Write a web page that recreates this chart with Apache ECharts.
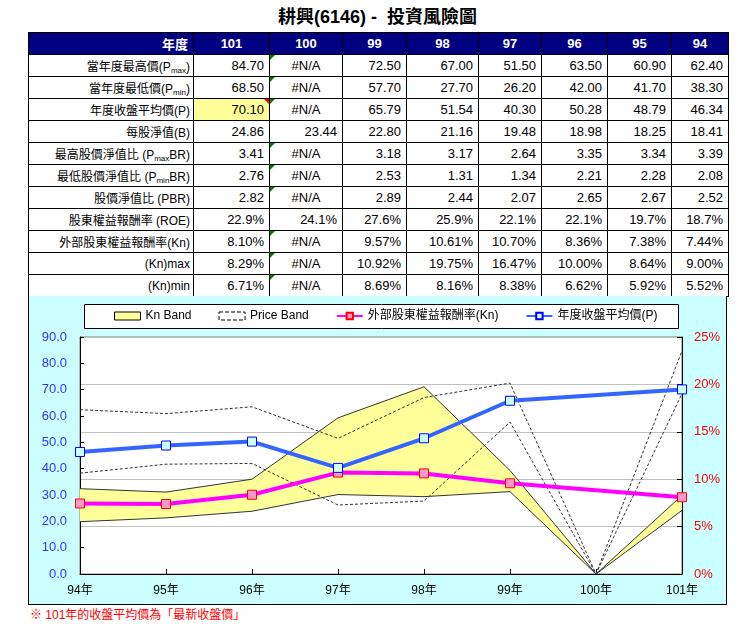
<!DOCTYPE html>
<html>
<head>
<meta charset="utf-8">
<script src="https://cdn.jsdelivr.net/npm/echarts@6.0.0/dist/echarts.min.js"></script>
<style>
  body { margin: 0; background: #fff; font-family: "Liberation Sans", "Noto Sans CJK TC", sans-serif; }
  #title { position: absolute; left: 28px; top: 5px; width: 699px; text-align: center; font-size: 18px; font-weight: bold; line-height: 24px; color: #000; }
  #tbl { position: absolute; left: 28px; top: 32px; border-collapse: collapse; table-layout: fixed; width: 700px; }
  #tbl td, #tbl th { border: 1px solid #000; height: 21px; padding: 0 5px; font-size: 13px; text-align: right; position: relative; white-space: nowrap; overflow: visible; }
  #tbl th { background: #000080; color: #fff; font-weight: bold; text-align: center; }
  #tbl th.lab { text-align: right; }
  #tbl td.lab { font-size: 12px; padding-right: 3px; }
  #tbl td.na { text-align: center; }
  #tbl sub { font-size: 8px; vertical-align: -2px; }
  #tbl td.hl { background: #FFFF99; }
  .tri-g::before { content: ""; position: absolute; left: 0; top: 0; border-top: 5px solid #008000; border-right: 5px solid transparent; }
  .tri-r::after { content: ""; position: absolute; right: 0; top: 0; border-top: 5px solid #FF0000; border-left: 5px solid transparent; }
  #box { position: absolute; left: 28px; top: 296px; width: 697px; height: 308px; border: 1px solid #000; border-top: none; background: #CCFFFF; }
  #chart { width: 697px; height: 308px; }
  #note { position: absolute; left: 30px; top: 606px; font-size: 12px; color: #FF0000; line-height: 18px; }
</style>
</head>
<body>
<div id="title">耕興(6146) -&nbsp; 投資風險圖</div>
<table id="tbl">
  <colgroup>
    <col style="width:165px"><col style="width:76px"><col style="width:73px"><col style="width:64px">
    <col style="width:72px"><col style="width:63px"><col style="width:66px"><col style="width:64px"><col style="width:57px">
  </colgroup>
  <tbody id="tb"></tbody>
</table>
<div id="box"><div id="chart"></div></div>
<div id="note">※ 101年的收盤平均價為「最新收盤價」</div>
<script>
// 年度 (表格順序)
const years = [101, 100, 99, 98, 97, 96, 95, 94];

const pMax   = [84.70, null, 72.50, 67.00, 51.50, 63.50, 60.90, 62.40];
const pMin   = [68.50, null, 57.70, 27.70, 26.20, 42.00, 41.70, 38.30];
const pAvg   = [70.10, null, 65.79, 51.54, 40.30, 50.28, 48.79, 46.34];
const bvps   = [24.86, 23.44, 22.80, 21.16, 19.48, 18.98, 18.25, 18.41];
const pmaxBR = [3.41, null, 3.18, 3.17, 2.64, 3.35, 3.34, 3.39];
const pminBR = [2.76, null, 2.53, 1.31, 1.34, 2.21, 2.28, 2.08];
const pbr    = [2.82, null, 2.89, 2.44, 2.07, 2.65, 2.67, 2.52];
const roe    = [22.9, 24.1, 27.6, 25.9, 22.1, 22.1, 19.7, 18.7];
const kn     = [8.10, null, 9.57, 10.61, 10.70, 8.36, 7.38, 7.44];
const knMax  = [8.29, null, 10.92, 19.75, 16.47, 10.00, 8.64, 9.00];
const knMin  = [6.71, null, 8.69, 8.16, 8.38, 6.62, 5.92, 5.52];

const rows = [
    ['當年度最高價(P<sub>max</sub>)', pMax, 2, ''],
    ['當年度最低價(P<sub>min</sub>)', pMin, 2, ''],
    ['年度收盤平均價(P)', pAvg, 2, ''],
    ['每股淨值(B)', bvps, 2, ''],
    ['最高股價淨值比 (P<sub>max</sub>BR)', pmaxBR, 2, ''],
    ['最低股價淨值比 (P<sub>min</sub>BR)', pminBR, 2, ''],
    ['股價淨值比 (PBR)', pbr, 2, ''],
    ['股東權益報酬率 (ROE)', roe, 1, '%'],
    ['外部股東權益報酬率(Kn)', kn, 2, '%'],
    ['(Kn)max', knMax, 2, '%'],
    ['(Kn)min', knMin, 2, '%']
];

// 表格
let html = '<tr><th class="lab">年度</th>' + years.map(y => '<th>' + y + '</th>').join('') + '</tr>';
rows.forEach(function (r, ri) {
    html += '<tr><td class="lab">' + r[0] + '</td>';
    r[1].forEach(function (v, i) {
        let cls = [];
        if (v == null) cls.push('na');
        if (i == 1 && v == null) cls.push('tri-g');
        if (ri == 2 && i == 0) { cls.push('hl'); cls.push('tri-r'); }
        let txt = v == null ? '#N/A' : v.toFixed(r[2]) + r[3];
        html += '<td class="' + cls.join(' ') + '">' + txt + '</td>';
    });
    html += '</tr>';
});
document.getElementById('tb').innerHTML = html;

// 圖表 (時間順序)
const rev = a => a.slice().reverse();
const naZero = a => rev(a).map(v => v == null ? 0 : v);
const cats = rev(years).map(y => y + '年');
const knMinC = naZero(knMin);
const knBandC = naZero(knMax).map((v, i) => +(v - knMinC[i]).toFixed(2));

var myChart = echarts.init(document.getElementById('chart'), null, { renderer: 'canvas' });

var option = {
    animation: false,
    textStyle: { fontFamily: '"Liberation Sans", "Noto Sans CJK TC", sans-serif' },
    graphic: [{
        type: 'rect', left: 55, top: 8, z: 1,
        shape: { width: 594, height: 24 },
        style: { fill: '#fff', stroke: '#000', lineWidth: 1 }
    }],
    legend: {
        left: 85, top: 14, padding: 0, itemGap: 27, itemWidth: 26, itemHeight: 8,
        textStyle: { fontSize: 12, color: '#000' },
        data: [
            { name: 'Kn Band', icon: 'rect', itemStyle: { color: '#FFFF99', borderColor: '#000', borderWidth: 1 } },
            { name: 'Price Band', icon: 'rect', itemStyle: { color: '#fff', borderColor: '#000', borderWidth: 1, borderType: 'dashed' } },
            { name: '外部股東權益報酬率(Kn)' },
            { name: '年度收盤平均價(P)' }
        ]
    },
    grid: { left: 51, top: 41, width: 602, height: 237, show: true, backgroundColor: '#fff', borderColor: '#808080', borderWidth: 1 },
    xAxis: {
        type: 'category', data: cats, boundaryGap: false,
        axisLine: { lineStyle: { color: '#000' } },
        axisTick: { inside: true, length: 5, lineStyle: { color: '#000' } },
        axisLabel: { color: '#000', fontSize: 12, margin: 11 }
    },
    yAxis: [
        {
            type: 'value', min: 0, max: 90, interval: 10,
            axisLine: { show: true, lineStyle: { color: '#000' } },
            axisTick: { show: true, inside: true, length: 4, lineStyle: { color: '#000' } },
            axisLabel: { color: '#3333FF', fontSize: 13, margin: 13, formatter: v => v.toFixed(1) },
            splitLine: { show: false }
        },
        {
            type: 'value', min: 0, max: 25, interval: 5, position: 'right',
            axisLine: { show: true, lineStyle: { color: '#000' } },
            axisTick: { show: true, inside: true, length: 5, lineStyle: { color: '#000' } },
            axisLabel: { color: '#FF0000', fontSize: 13, margin: 12, formatter: '{value}%' },
            splitLine: { show: true, lineStyle: { color: '#C0C0C0' } }
        }
    ],
    series: [
        {
            name: 'Kn min', type: 'line', yAxisIndex: 1, stack: 'kn', data: knMinC,
            symbol: 'none', lineStyle: { color: '#333', width: 1 }, itemStyle: { color: '#333' }
        },
        {
            name: 'Kn Band', type: 'line', yAxisIndex: 1, stack: 'kn', data: knBandC,
            symbol: 'none', lineStyle: { color: '#333', width: 1 }, itemStyle: { color: '#FFFF99' },
            areaStyle: { color: '#FFFF99', opacity: 1 }
        },
        {
            name: 'Price Band', type: 'line', data: naZero(pMax),
            symbol: 'none', lineStyle: { color: '#333', width: 1, type: [3, 2] }, itemStyle: { color: '#333' }
        },
        {
            name: 'Price Band', type: 'line', data: naZero(pMin),
            symbol: 'none', lineStyle: { color: '#333', width: 1, type: [3, 2] }, itemStyle: { color: '#333' }
        },
        {
            name: '外部股東權益報酬率(Kn)', type: 'line', yAxisIndex: 1, data: rev(kn), connectNulls: true,
            symbol: 'rect', symbolSize: 9,
            lineStyle: { color: '#FF00FF', width: 4 },
            itemStyle: { color: '#FF99CC', borderColor: '#FF0000', borderWidth: 1 }
        },
        {
            name: '年度收盤平均價(P)', type: 'line', data: rev(pAvg), connectNulls: true,
            symbol: 'rect', symbolSize: 9,
            lineStyle: { color: '#3366FF', width: 4 },
            itemStyle: { color: '#CCFFFF', borderColor: '#0000FF', borderWidth: 1 }
        }
    ]
};

myChart.setOption(option);
window.addEventListener('resize', myChart.resize);
</script>
</body>
</html>
